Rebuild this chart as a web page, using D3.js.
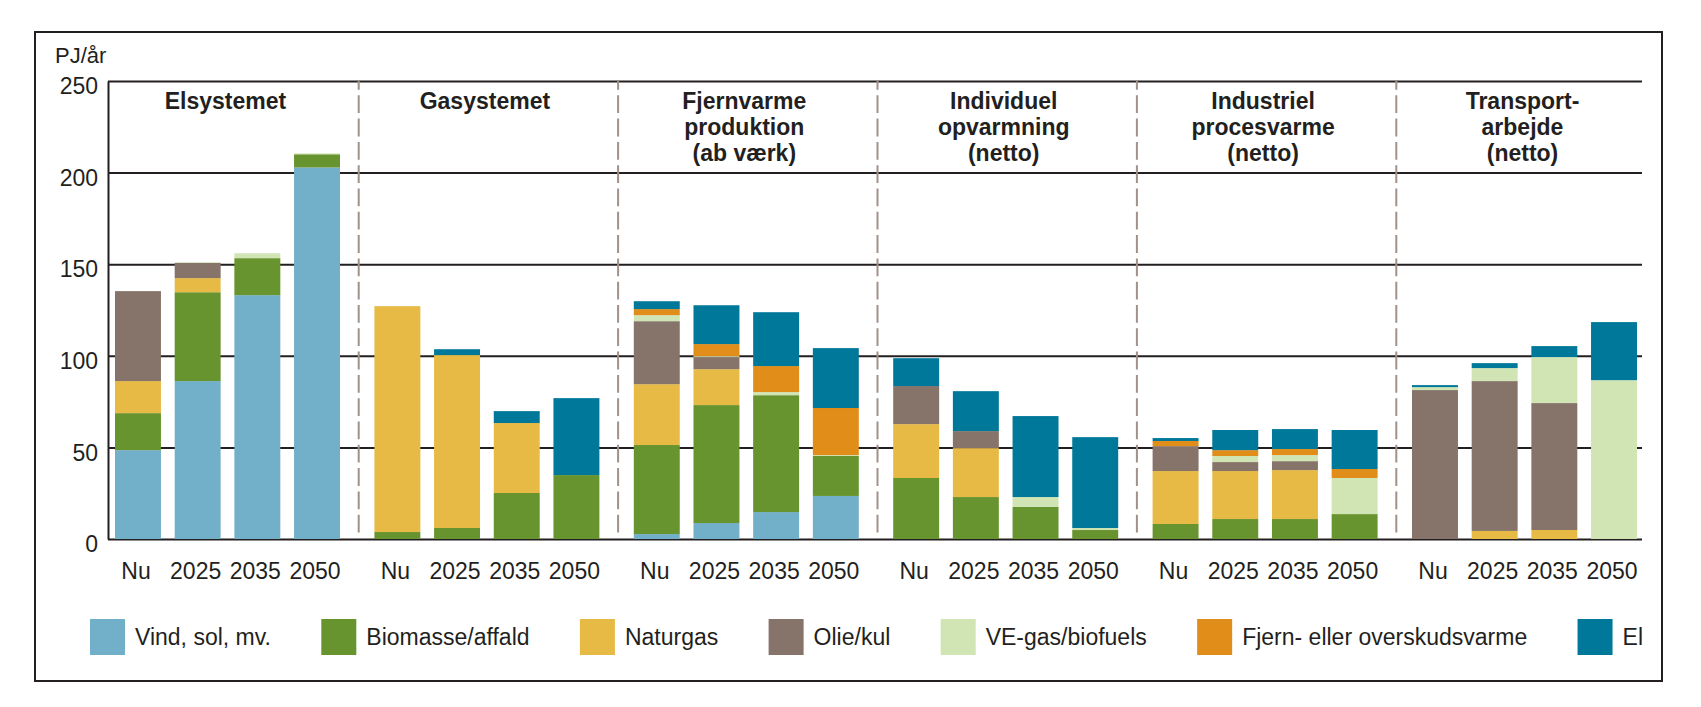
<!DOCTYPE html>
<html>
<head>
<meta charset="utf-8">
<script src="https://cdn.jsdelivr.net/npm/d3@7"></script>
<style>
  html, body { margin: 0; padding: 0; background: #fff; }
  svg text { font-family: "Liberation Sans", Arial, sans-serif; fill: #231f20; }
</style>
</head>
<body>
<svg id="chart" width="1701" height="707"></svg>
<script>
// ---------- DATA ----------
const groupTitles = [
  ["Elsystemet"],
  ["Gasystemet"],
  ["Fjernvarme", "produktion", "(ab værk)"],
  ["Individuel", "opvarmning", "(netto)"],
  ["Industriel", "procesvarme", "(netto)"],
  ["Transport-", "arbejde", "(netto)"]
];
const periods = ["Nu", "2025", "2035", "2050"];
const seriesNames = ["Vind, sol, mv.", "Biomasse/affald", "Naturgas", "Olie/kul", "VE-gas/biofuels", "Fjern- eller overskudsvarme", "El"];
const seriesColors = ["#72afc9", "#67942e", "#e6ba45", "#86746a", "#d0e4b4", "#e08d1a", "#007899"];
const yTickValues = [0, 50, 100, 150, 200, 250];
const yUnit = "PJ/år";

// values per bar, ordered group by group (Nu, 2025, 2035, 2050)
const vind  = [48.5, 86.2, 133.1, 202.8,   0, 0, 0, 0,           2.7, 8.7, 14.7, 23.5,    0, 0, 0, 0,             0, 0, 0, 0,             0, 0, 0, 0];
const bio   = [20.2, 48.5, 20.2, 7.2,      3.8, 6.0, 25.1, 34.9, 48.6, 64.4, 63.8, 21.8,  33.3, 22.9, 17.5, 4.9,  8.2, 10.9, 10.9, 13.6,  0, 0, 0, 0];
const gas   = [17.5, 7.7, 0, 0,            123.3, 94.4, 38.2, 0, 33.2, 19.6, 0, 0,        29.4, 26.7, 0, 0,       28.9, 26.2, 26.7, 0,    0, 4.4, 4.9, 0];
const olie  = [49.1, 8.3, 0, 0,            0, 0, 0, 0,           34.4, 6.6, 0, 0,         20.8, 9.3, 0, 0,        13.6, 4.9, 4.9, 0,      81.3, 81.8, 69.3, 0];
const vegas = [0, 0.4, 2.7, 0.5,           0, 0, 0, 0,           3.3, 0.5, 1.7, 0.5,      0, 0, 5.4, 1.1,         0, 3.3, 3.3, 19.7,      1.6, 7.1, 25.1, 86.7];
const fjern = [0, 0, 0, 0,                 0, 0, 0, 0,           3.3, 6.6, 14.2, 25.7,    0, 0, 0, 0,             2.8, 3.2, 3.3, 4.9,     0, 0, 0, 0];
const el    = [0, 0, 0, 0,                 0, 3.2, 6.5, 42.0,    4.3, 21.2, 29.4, 32.7,   15.2, 21.8, 44.2, 49.6, 1.6, 11.0, 10.9, 21.3,  1.1, 2.7, 6.0, 31.7];

// ---------- BUILD TABLE ----------
const seriesArrays = [vind, bio, gas, olie, vegas, fjern, el];
const keys = seriesNames;
const groupIds = groupTitles.map((t, i) => "g" + i);
const rows = [];
groupIds.forEach((g, gi) => {
  periods.forEach((p, pi) => {
    const idx = gi * periods.length + pi;
    const row = { group: g, period: p };
    keys.forEach((k, ki) => { row[k] = seriesArrays[ki][idx]; });
    rows.push(row);
  });
});

// ---------- LAYOUT ----------
const svg = d3.select("#chart");
const plotLeft = 108, plotRight = 1642;
const textColor = "#231f20";

const y = d3.scaleLinear().domain([0, 250]).range([539, 81]);
const x0 = d3.scaleBand().domain(groupIds).range([115, 1637]).paddingInner(0.1326).paddingOuter(0);
const x1 = d3.scaleBand().domain(periods).range([0, x0.bandwidth()]).paddingInner(0.23).paddingOuter(0);
const color = d3.scaleOrdinal().domain(keys).range(seriesColors);

// frame
svg.append("rect")
  .attr("x", 35).attr("y", 32).attr("width", 1627).attr("height", 649)
  .attr("fill", "none").attr("stroke", textColor).attr("stroke-width", 2);

// y axis + gridlines
const yAxis = d3.axisLeft(y)
  .tickValues(yTickValues)
  .tickSizeInner(-(plotRight - plotLeft))
  .tickSizeOuter(0)
  .tickPadding(10);
const ya = svg.append("g").attr("transform", `translate(${plotLeft},0)`).call(yAxis);
ya.select(".domain").attr("stroke", textColor).attr("stroke-width", 2);
ya.selectAll(".tick line").attr("stroke", textColor).attr("stroke-width", 2);
ya.selectAll(".tick text")
  .attr("font-size", 23).attr("dy", "0.55em")
  .attr("fill", textColor)
  .style("font-family", '"Liberation Sans", Arial, sans-serif');

// unit label
svg.append("text").attr("x", 55).attr("y", 63).attr("font-size", 22).text(yUnit);

// separators
const step0 = x0.step(), bw0 = x0.bandwidth();
groupIds.slice(0, -1).forEach(g => {
  const sx = x0(g) + bw0 + (step0 - bw0) / 2 + 1.5;
  svg.append("line")
    .attr("x1", sx).attr("x2", sx)
    .attr("y1", y(250)).attr("y2", y(0))
    .attr("stroke", "#a09189").attr("stroke-width", 2)
    .attr("stroke-dasharray", "17.8 5.5").attr("stroke-dashoffset", 9);
});

// bars
const stacked = d3.stack().keys(keys)(rows);
const layers = svg.append("g").selectAll("g")
  .data(stacked).join("g")
  .attr("fill", d => color(d.key));
layers.selectAll("rect")
  .data(d => d.filter(s => s[1] - s[0] > 0))
  .join("rect")
  .attr("x", d => x0(d.data.group) + x1(d.data.period))
  .attr("width", x1.bandwidth())
  .attr("y", d => y(d[1]))
  .attr("height", d => y(d[0]) - y(d[1]));

// x labels
rows.forEach(r => {
  svg.append("text")
    .attr("x", x0(r.group) + x1(r.period) + x1.bandwidth() / 2 - 2)
    .attr("y", 579)
    .attr("text-anchor", "middle")
    .attr("font-size", 23)
    .text(r.period);
});

// group titles
groupIds.forEach((g, gi) => {
  const t = svg.append("text")
    .attr("text-anchor", "middle")
    .attr("font-size", 23)
    .attr("font-weight", "bold");
  groupTitles[gi].forEach((line, li) => {
    t.append("tspan")
      .attr("x", x0(g) + bw0 / 2 - 2)
      .attr("y", 109 + li * 26)
      .text(line);
  });
});

// legend
const legStart = 90, legEnd = 1643, swW = 35, swH = 36, txtOff = 45;
const leg = svg.append("g");
const items = keys.map(k => {
  const gI = leg.append("g");
  gI.append("rect").attr("width", swW).attr("height", swH).attr("y", 619).attr("fill", color(k));
  const tx = gI.append("text").attr("x", txtOff).attr("y", 645).attr("font-size", 23).text(k);
  return { g: gI, w: tx.node().getComputedTextLength() };
});
const total = d3.sum(items, d => txtOff + d.w);
const gap = (legEnd - legStart - total) / (items.length - 1);
let cx = legStart;
items.forEach(it => {
  it.g.attr("transform", `translate(${cx},0)`);
  cx += txtOff + it.w + gap;
});
</script>
</body>
</html>
